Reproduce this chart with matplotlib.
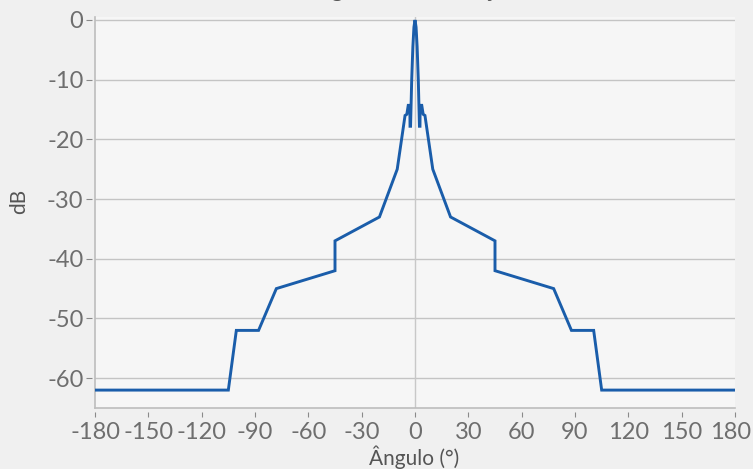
import matplotlib
matplotlib.use("Agg")
import matplotlib.pyplot as plt
import matplotlib.transforms as mtransforms

# Data
angles = [-180, -105, -100.5, -88, -78, -45, -45, -20, -10, -5.6, -4.6, -3.8, -2.9, -2.8, -2.5,
          -1.85, -1.2, -0.6, 0,
          0.6, 1.2, 1.85, 2.5, 2.8, 2.9, 3.8, 4.6, 5.6, 10, 20, 45, 45, 78, 88, 100.5, 105, 180]
gain_db = [-62, -62, -52, -52, -45, -42, -37, -33, -25, -16, -15.8, -14.3, -14.3, -17.8, -17.8,
           -10, -4.5, -1.2, 0,
           -1.2, -4.5, -10, -17.8, -17.8, -14.3, -14.3, -15.8, -16, -25, -33, -37, -42, -45, -52, -52, -62, -62]
x_ticks = [-180, -150, -120, -90, -60, -30, 0, 30, 60, 90, 120, 150, 180]
y_ticks = [0, -10, -20, -30, -40, -50, -60]
title = "Diagrama de radiação"
x_label = "Ângulo (°)"
y_label = "dB"

plt.rcParams['font.family'] = ['Lato', 'DejaVu Sans']

W, H = 753, 469
fig = plt.figure(figsize=(W / 100, H / 100), dpi=100)
fig.patch.set_facecolor('#f0f0f0')
ax = fig.add_axes([95 / W, (H - 408) / H, 640 / W, (408 - 17) / H])
ax.set_facecolor('#f6f6f6')

ax.set_xlim(-180, 180)
ax.set_ylim(-65, 0.5)

ax.set_yticks(y_ticks)
ax.set_yticklabels([str(v) for v in y_ticks])
ax.set_xticks(x_ticks)
ax.set_xticklabels([str(v) for v in x_ticks])

ax.yaxis.grid(True, color='#c4c4c4', linewidth=1.0)
ax.set_axisbelow(True)
ax.axvline(0, color='#c8c8c8', linewidth=1.0, zorder=1)

ax.plot(angles, gain_db, color='#1a5daa', linewidth=2.1, zorder=3, solid_joinstyle='miter')

for side in ['top', 'right']:
    ax.spines[side].set_visible(False)
ax.spines['left'].set_position(('outward', 2))
ax.spines['bottom'].set_position(('outward', 3))
ax.spines['left'].set_color('none')
ax.spines['bottom'].set_color('none')
# axis lines drawn at the data bounds, ticks sit slightly detached like the reference
ax.axvline(-180, color='#bdbdbd', linewidth=1.2, clip_on=False, zorder=2)
ax.axhline(-65, color='#bdbdbd', linewidth=1.2, clip_on=False, zorder=2)

ax.tick_params(axis='both', colors='#8a8a8a', labelcolor='#6e6e6e', labelsize=17)
ax.tick_params(axis='x', length=3.6, width=0.8, pad=3.5)
ax.tick_params(axis='y', length=4.3, width=0.8, pad=2)

# nudge the last x tick label left so it stays inside the canvas, as in the reference
last = ax.get_xticklabels()[-1]
last.set_transform(last.get_transform() + mtransforms.ScaledTranslation(-4 / 100, 0, fig.dpi_scale_trans))

fig.text(19 / W, 1 - 201.5 / H, y_label, rotation=90, ha='center', va='center',
         fontsize=15, color='#555555')
fig.text(414 / W, 1 - 465 / H, x_label, ha='center', va='baseline',
         fontsize=15, color='#555555')

fig.text(408 / W, 1.0 + 3 / H, title, ha='center', va='baseline', fontsize=17, color='#555555')

fig.savefig('out.png', dpi=100, facecolor=fig.get_facecolor())
